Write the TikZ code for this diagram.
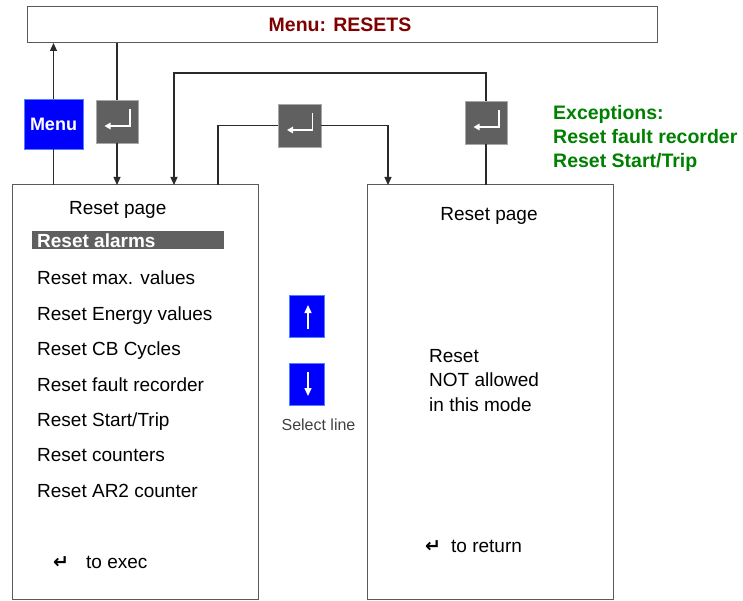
\documentclass[tikz,border=0pt]{standalone}
\usepackage{fontspec}
\setmainfont{Liberation Sans}
\newfontfamily\symfont{DejaVu Sans}
\usetikzlibrary{arrows.meta}
\definecolor{titlered}{HTML}{800000}
\definecolor{exgreen}{HTML}{008000}
\definecolor{entgray}{HTML}{606060}
\definecolor{entborder}{HTML}{A8A8A8}
\definecolor{lineclr}{HTML}{2A2A2A}
\definecolor{boxclr}{HTML}{5A5A5A}
\definecolor{keyblue}{HTML}{0000FF}
\definecolor{keyborder}{HTML}{5080FF}
\newcommand\entericon[1]{\draw[white, line width=1.4pt, -{Triangle[width=6.5pt,length=6pt]}] ([shift={(13,-12.5)}]#1.center) -- ([shift={(13,4.5)}]#1.center) -- ([shift={(-12.5,4.5)}]#1.center);}
\begin{document}
\begin{tikzpicture}[x=1pt,y=-1pt,
  panel/.style={draw=boxclr, line width=1pt, fill=white, inner sep=0pt, outer sep=0pt, anchor=north west},
  enterkey/.style={draw=entborder, line width=0.8pt, fill=entgray, inner sep=0pt, outer sep=0pt, anchor=north west, minimum width=42pt, minimum height=43pt},
  bluekey/.style={draw=keyborder, line width=0.8pt, fill=keyblue, inner sep=0pt, outer sep=0pt, anchor=north west},
  txt/.style={anchor=base west, inner sep=0pt, font=\fontsize{19}{23}\selectfont},
  symtxt/.style={anchor=base west, inner sep=0pt, font=\fontsize{19}{23}\selectfont\symfont\bfseries},
  conn/.style={draw=lineclr, line width=1.2pt},
  arr/.style={conn, -{Triangle[width=7pt,length=8pt]}},
  keyarrow/.style={white, line width=1.5pt, -{Triangle[width=7pt,length=8pt]}}
]
\useasboundingbox (0,0) rectangle (743,601);

% panels
\node[panel, minimum width=630pt, minimum height=36pt] (bar) at (27,7) {};
\node[panel, minimum width=246pt, minimum height=414pt] (lbox) at (12,185) {};
\node[panel, minimum width=246pt, minimum height=414pt] (rbox) at (367,185) {};

\node[anchor=base, inner sep=0pt, font=\fontsize{19.5}{23}\selectfont\bfseries, text=titlered] (title) at (340,32) {Menu: RESETS};

% keys
\node[bluekey, minimum width=59pt, minimum height=50pt, text=white, font=\fontsize{18}{22}\selectfont\bfseries] (menu) at (24,99) {Menu};
\node[enterkey] (ent1) at (96,100) {};
\node[enterkey, minimum width=43pt] (ent2) at (278,104) {};
\node[enterkey] (ent3) at (465,101) {};
\entericon{ent1}
\entericon{ent2}
\entericon{ent3}

\node[bluekey, minimum width=35pt, minimum height=42pt] (up) at (289,295) {};
\node[bluekey, minimum width=35pt, minimum height=42pt] (down) at (289,363) {};
\draw[keyarrow] ([shift={(1.5,13)}]up.center) -- ([shift={(1.5,-11)}]up.center);
\draw[keyarrow] ([shift={(1.5,-12)}]down.center) -- ([shift={(1.5,12)}]down.center);
\node[anchor=base, inner sep=0pt, font=\fontsize{16}{19}\selectfont, text=black!75] (sel) at (318.5,430) {Select line};

% connectors
\draw[arr] (menu.north) -- (menu.north |- bar.south);
\draw[conn] (menu.south) -- (menu.south |- lbox.north);
\draw[conn] (ent1.north |- bar.south) -- (ent1.north);
\draw[arr] (ent1.south) -- (ent1.south |- lbox.north);
\coordinate (top3) at (174,73);
\draw[conn] (ent3.south) -- (ent3.south |- rbox.north);
\draw[arr] (ent3.north) |- (top3) -- (top3 |- lbox.north);
\coordinate (l2) at (218,185);
\coordinate (r2) at (388,185);
\draw[conn] (ent2.west) -| (l2);
\draw[arr] (ent2.east) -| (r2);

% left panel text
\node[txt] (lp) at (69,214.5) {Reset page};
\node[panel, draw=none, fill=entgray, minimum width=192pt, minimum height=18pt] (hl) at (32,231) {};
\node[txt, font=\fontsize{19}{23}\selectfont\bfseries, text=white] (l1) at (37,247.5) {Reset alarms};
\node[txt] (l2t) at (37,284.5) {Reset max. values};
\node[txt] (l3t) at (37,320) {Reset Energy values};
\node[txt] (l4t) at (37,355.5) {Reset CB Cycles};
\node[txt] (l5t) at (37,391) {Reset fault recorder};
\node[txt] (l6t) at (37,426.5) {Reset Start/Trip};
\node[txt] (l7t) at (37,461.5) {Reset counters};
\node[txt] (l8t) at (37,497) {Reset AR2 counter};
\node[symtxt] (ex1) at (53,568) {↵};
\node[txt] (ex2) at (86,568) {to exec};

% right panel text
\node[anchor=base, inner sep=0pt, font=\fontsize{19}{23}\selectfont] (rp) at (489,221) {Reset page};
\node[txt] (n1) at (429,362) {Reset};
\node[txt] (n2) at (429,386.5) {NOT allowed};
\node[txt] (n3) at (429,411) {in this mode};
\node[symtxt] (rt1) at (425,552) {↵};
\node[txt] (rt2) at (451,552) {to return};

% exceptions
\node[txt, font=\fontsize{19.5}{23}\selectfont\bfseries, text=exgreen] (e1) at (553,120) {Exceptions:};
\node[txt, font=\fontsize{19.5}{23}\selectfont\bfseries, text=exgreen] (e2) at (553,144) {Reset fault recorder};
\node[txt, font=\fontsize{19.5}{23}\selectfont\bfseries, text=exgreen] (e3) at (553,168) {Reset Start/Trip};
\end{tikzpicture}
\end{document}
